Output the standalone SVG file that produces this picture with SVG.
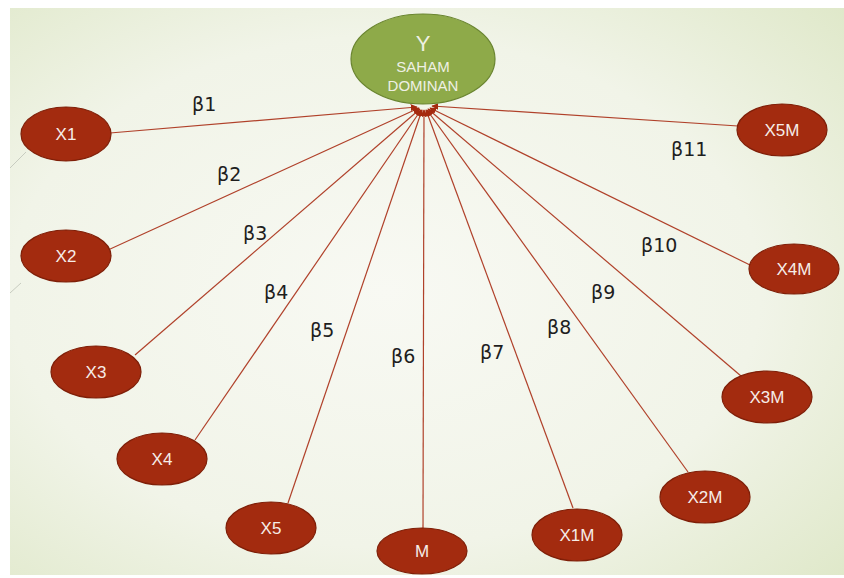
<svg xmlns="http://www.w3.org/2000/svg" width="844" height="578" viewBox="0 0 844 578">
<defs>
<radialGradient id="bg" cx="0.45" cy="0.5" r="0.75">
<stop offset="0" stop-color="#f8f9f3"/>
<stop offset="0.6" stop-color="#f1f4e8"/>
<stop offset="1" stop-color="#dfe8c9"/>
</radialGradient>
<marker id="arr" viewBox="0 0 10 10" refX="9" refY="5" markerWidth="7" markerHeight="7" markerUnits="userSpaceOnUse" orient="auto">
<path d="M0,0 L10,5 L0,10 z" fill="#a52a0f"/>
</marker>
<style>
.n ellipse{fill:#a32b0f;stroke:#7f1f08;stroke-width:1.2}
.n text{fill:#f6ede8;font-family:"Liberation Sans","DejaVu Sans",sans-serif;font-size:17px;text-anchor:middle}
.c line{stroke:#b0412a;stroke-width:1.2;marker-end:url(#arr)}
.b{fill:#1e1e1e;font-family:"DejaVu Sans","Liberation Sans",sans-serif;font-size:19px}
</style>
</defs>
<rect x="0" y="0" width="844" height="578" fill="#ffffff"/>
<rect x="10" y="8" width="834" height="567" fill="url(#bg)"/>
<line x1="10" y1="168" x2="26" y2="152" stroke="#c8ccc0" stroke-width="1"/>
<line x1="10" y1="293" x2="21" y2="283" stroke="#c8ccc0" stroke-width="1"/>
<g id="connectors" class="c">
<line x1="110" y1="133" x2="417" y2="107"/>
<line x1="108" y1="250" x2="419" y2="108"/>
<line x1="135" y1="355" x2="420" y2="109"/>
<line x1="195" y1="440" x2="421" y2="110"/>
<line x1="288" y1="503" x2="422" y2="110"/>
<line x1="423" y1="528" x2="424" y2="110"/>
<line x1="573" y1="508" x2="426" y2="110"/>
<line x1="688" y1="472" x2="427" y2="110"/>
<line x1="741" y1="376" x2="428" y2="109"/>
<line x1="750" y1="265" x2="430" y2="108"/>
<line x1="738" y1="126" x2="432" y2="106"/>
</g>
<g id="Y">
<ellipse cx="423" cy="59" rx="72" ry="45" fill="#8eaa49" stroke="#6a8530" stroke-width="1.2"/>
<text x="423" y="51" text-anchor="middle" font-family="Liberation Sans, DejaVu Sans, sans-serif" font-size="22" fill="#eef0e4">Y</text>
<text x="423" y="72" text-anchor="middle" font-family="Liberation Sans, DejaVu Sans, sans-serif" font-size="15" fill="#eef0e4">SAHAM</text>
<text x="423" y="91" text-anchor="middle" font-family="Liberation Sans, DejaVu Sans, sans-serif" font-size="15" fill="#eef0e4">DOMINAN</text>
</g>
<g id="X1" class="n"><ellipse cx="66" cy="134" rx="45" ry="27"/><text x="66" y="140">X1</text></g>
<g id="X2" class="n"><ellipse cx="66" cy="256" rx="45" ry="26"/><text x="66" y="262">X2</text></g>
<g id="X3" class="n"><ellipse cx="96" cy="372" rx="45" ry="26"/><text x="96" y="378">X3</text></g>
<g id="X4" class="n"><ellipse cx="162" cy="459" rx="45" ry="26"/><text x="162" y="465">X4</text></g>
<g id="X5" class="n"><ellipse cx="271" cy="528" rx="45" ry="26"/><text x="271" y="534">X5</text></g>
<g id="M" class="n"><ellipse cx="422" cy="551" rx="45" ry="23"/><text x="422" y="557">M</text></g>
<g id="X1M" class="n"><ellipse cx="577" cy="535" rx="45" ry="26"/><text x="577" y="541">X1M</text></g>
<g id="X2M" class="n"><ellipse cx="705" cy="497" rx="45" ry="26"/><text x="705" y="503">X2M</text></g>
<g id="X3M" class="n"><ellipse cx="767" cy="397" rx="45" ry="26"/><text x="767" y="403">X3M</text></g>
<g id="X4M" class="n"><ellipse cx="794" cy="269" rx="45" ry="25"/><text x="794" y="275">X4M</text></g>
<g id="X5M" class="n"><ellipse cx="782" cy="130" rx="45" ry="26"/><text x="782" y="136">X5M</text></g>
<g id="labels">
<text class="b" x="192" y="111">β1</text>
<text class="b" x="217" y="181">β2</text>
<text class="b" x="243" y="240">β3</text>
<text class="b" x="264" y="299">β4</text>
<text class="b" x="310" y="337">β5</text>
<text class="b" x="391" y="363">β6</text>
<text class="b" x="480" y="359">β7</text>
<text class="b" x="547" y="334">β8</text>
<text class="b" x="591" y="299">β9</text>
<text class="b" x="641" y="252">β10</text>
<text class="b" x="671" y="156">β11</text>
</g>
</svg>
